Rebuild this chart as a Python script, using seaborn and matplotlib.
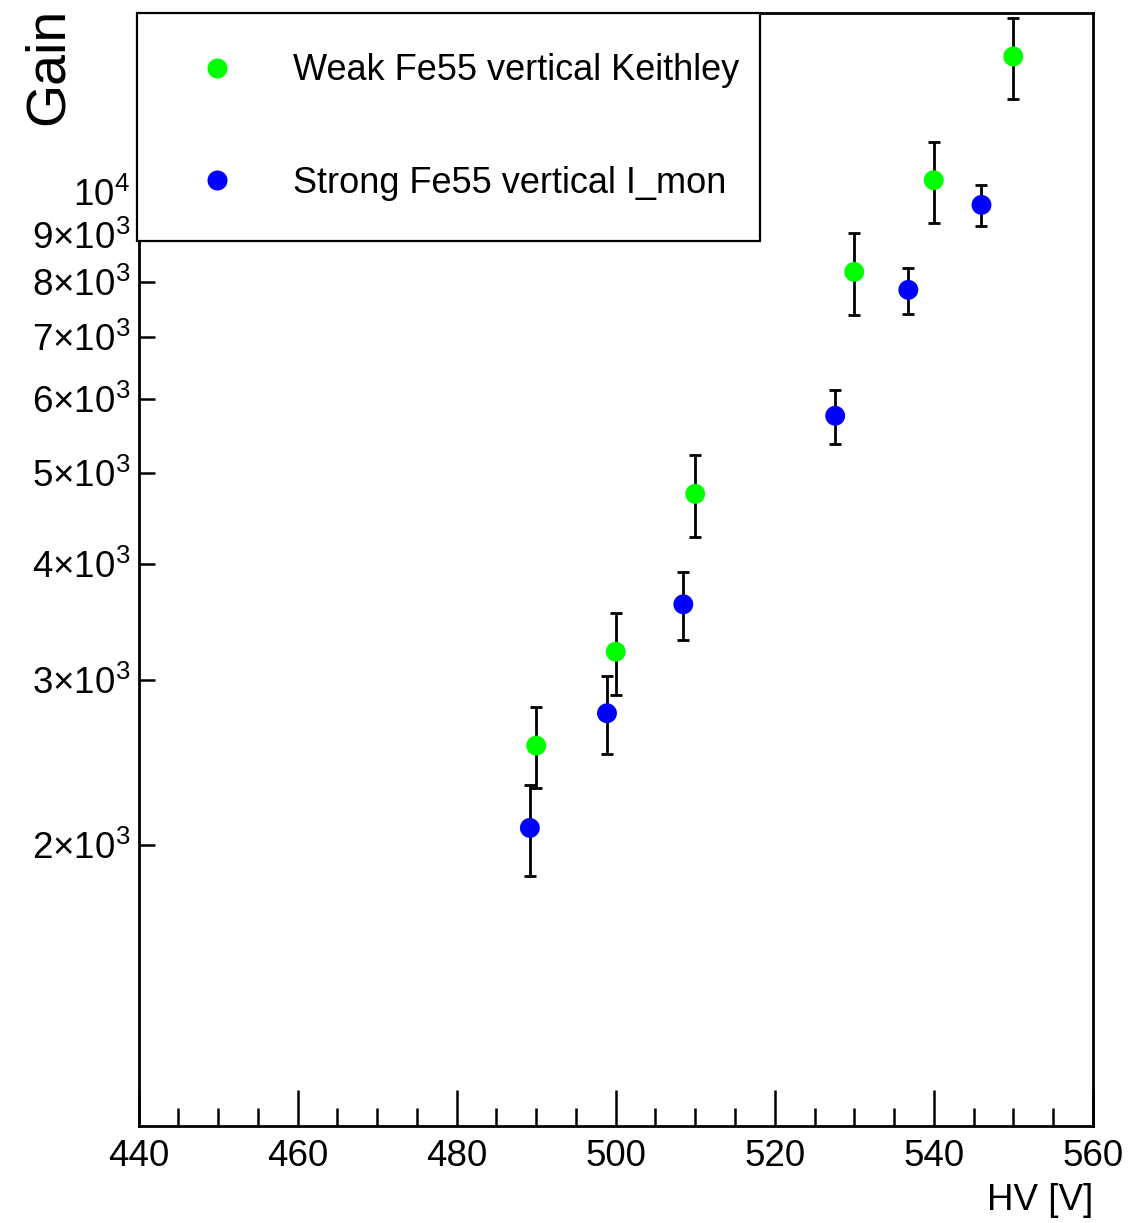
import numpy as np
import pandas as pd
import matplotlib
matplotlib.use("Agg")
import matplotlib.pyplot as plt
from matplotlib.lines import Line2D
from matplotlib.ticker import MultipleLocator, FixedLocator, NullLocator
import seaborn as sns

# ---------------- data ----------------
weak_label = "Weak Fe55 vertical Keithley"
strong_label = "Strong Fe55 vertical I_mon"

weak_hv = [490, 500, 510, 530, 540, 550]
weak_gain = [2554, 3219, 4750, 8209, 10290, 13960]
weak_err = [256, 323, 478, 824, 1024, 1400]

strong_hv = [489.2, 498.9, 508.5, 527.6, 536.8, 546.0]
strong_gain = [2085, 2766, 3618, 5758, 7853, 9683]
strong_err = [232, 265, 301, 382, 445, 495]

x_ticks = [440, 460, 480, 500, 520, 540, 560]
y_ticks = [2000, 3000, 4000, 5000, 6000, 7000, 8000, 9000, 10000]
y_tick_labels = [r"$2{\times}10^{3}$", r"$3{\times}10^{3}$", r"$4{\times}10^{3}$",
                 r"$5{\times}10^{3}$", r"$6{\times}10^{3}$", r"$7{\times}10^{3}$",
                 r"$8{\times}10^{3}$", r"$9{\times}10^{3}$", r"$10^{4}$"]

colors = {weak_label: "#00ff00", strong_label: "#0000ff"}

# ---------------- style ----------------
sns.set_theme(style="ticks")
plt.rcParams["font.family"] = ["Liberation Sans", "DejaVu Sans"]
plt.rcParams["mathtext.fontset"] = "custom"
plt.rcParams["mathtext.rm"] = "Liberation Sans"
plt.rcParams["mathtext.it"] = "Liberation Sans:italic"
plt.rcParams["mathtext.bf"] = "Liberation Sans:bold"
plt.rcParams["mathtext.default"] = "regular"
for key in ["text.color", "axes.labelcolor", "xtick.color", "ytick.color", "axes.edgecolor"]:
    plt.rcParams[key] = "black"

df = pd.concat([
    pd.DataFrame({"hv": weak_hv, "gain": weak_gain, "err": weak_err, "series": weak_label}),
    pd.DataFrame({"hv": strong_hv, "gain": strong_gain, "err": strong_err, "series": strong_label}),
], ignore_index=True)

fig = plt.figure(figsize=(11.48, 12.23), dpi=100)
ax = fig.add_axes([0.1208, 0.0793, 0.8311, 0.9101])

# error bars
for name, sub in df.groupby("series", sort=False):
    ax.errorbar(sub["hv"], sub["gain"], yerr=sub["err"], fmt="none",
                ecolor="black", elinewidth=2.0, capsize=4.5, capthick=2.0, zorder=2)

sns.scatterplot(data=df, x="hv", y="gain", hue="series", palette=colors,
                s=205, linewidth=0, ax=ax, zorder=3, legend=False)

ax.set_yscale("log")
ax.set_xlim(440, 560)
ax.set_ylim(1000, 15540)

ax.xaxis.set_major_locator(FixedLocator(x_ticks))
ax.xaxis.set_minor_locator(MultipleLocator(5))
ax.set_xticklabels([str(t) for t in x_ticks])
ax.yaxis.set_major_locator(FixedLocator(y_ticks))
ax.yaxis.set_minor_locator(NullLocator())
ax.set_yticklabels(y_tick_labels)

ax.tick_params(axis="x", which="major", direction="in", length=26, width=1.8,
               labelsize=26.5, pad=9, top=False, colors="black")
ax.tick_params(axis="x", which="minor", direction="in", length=13, width=1.8, top=False)
ax.tick_params(axis="y", which="major", direction="in", length=11.5, width=1.8,
               labelsize=26.5, pad=6, right=False, colors="black")

for sp in ax.spines.values():
    sp.set_visible(True)
    sp.set_linewidth(2.0)
    sp.set_color("black")

ax.set_xlabel("HV [V]", fontsize=26.5, loc="right", labelpad=7, color="black")
ax.set_ylabel("Gain", fontsize=40, color="black")
ax.yaxis.label.set_rotation_mode("anchor")
ax.yaxis.label.set_ha("right")
ax.yaxis.label.set_va("center")
ax.yaxis.set_label_coords(-0.094, 1.005)

handles = [Line2D([], [], linestyle="none", marker="o", markersize=14.4,
                  markerfacecolor=colors[k], markeredgewidth=0) for k in [weak_label, strong_label]]
leg = ax.legend(handles, [weak_label, strong_label], loc="upper left",
                bbox_to_anchor=(-0.002, 0.798, 0.653, 0.202), mode="expand",
                borderaxespad=0, borderpad=1.12, handlelength=2.2, handletextpad=1.0,
                labelspacing=2.15, fontsize=26, fancybox=False, framealpha=1,
                edgecolor="black", labelcolor="black")
leg.get_frame().set_linewidth(1.6)
leg.set_zorder(5)

fig.savefig("out.png", dpi=100, facecolor="white")
